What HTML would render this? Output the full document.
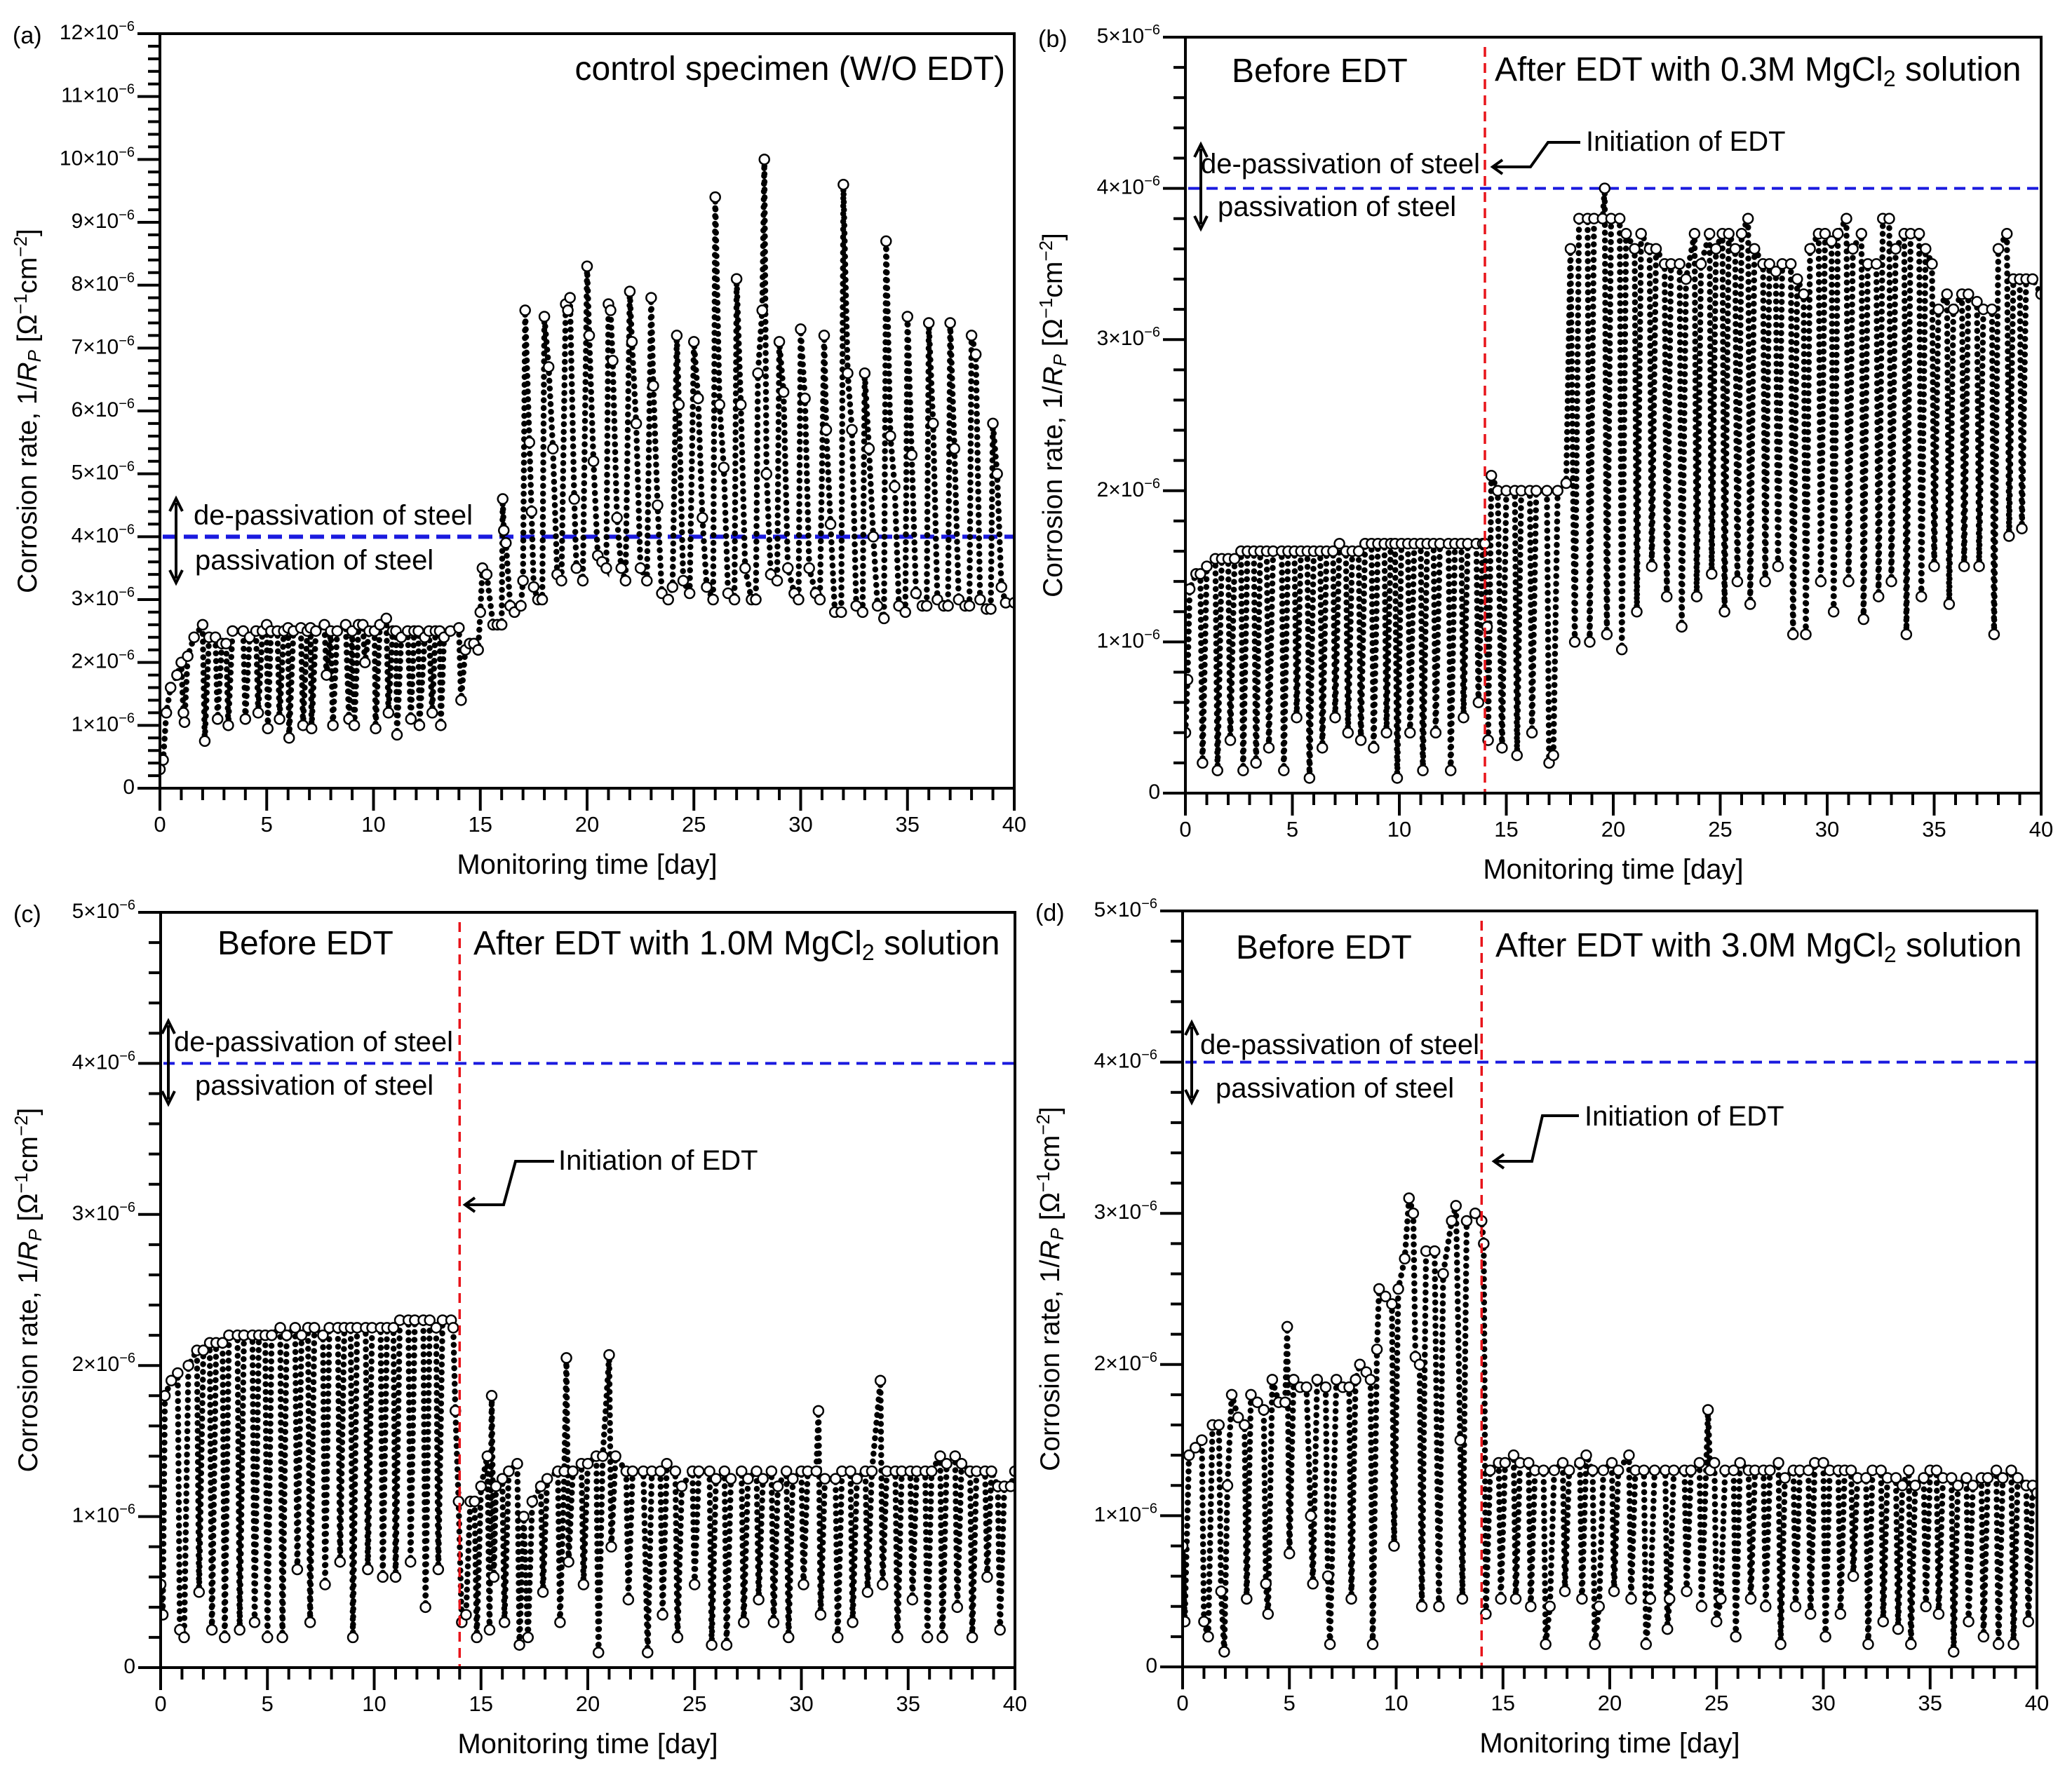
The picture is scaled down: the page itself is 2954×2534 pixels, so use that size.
<!DOCTYPE html>
<html><head><meta charset="utf-8"><style>
html,body{margin:0;padding:0;background:#fff}
svg{display:block}
text{font-family:"Liberation Sans",sans-serif;fill:#000}
</style></head><body>
<svg id="fig" width="2954" height="2534" viewBox="0 0 2954 2534" xmlns="http://www.w3.org/2000/svg"></svg>
<script>
// ---- data (units of 1e-6 ohm^-1 cm^-2) ----
const xTickLabels = [0,5,10,15,20,25,30,35,40];
const aYTicks = [0,1,2,3,4,5,6,7,8,9,10,11,12];
const bcdYTicks = [0,1,2,3,4,5];
const threshold = 4;
const edtDay = 14;
const aSeries = [[0,0.3],[0.15,0.45],[0.3,1.2],[0.5,1.6],[0.8,1.8],[1.0,2.0],[1.1,1.2],[1.15,1.05],[1.3,2.1],[1.6,2.4],[2.0,2.6],[2.1,0.75],[2.3,2.4],[2.6,2.4],[2.7,1.1],[2.9,2.3],[3.1,2.3],[3.2,1.0],[3.4,2.5],[3.9,2.5],[4.0,1.1],[4.2,2.4],[4.5,2.5],[4.6,1.2],[4.8,2.5],[5.0,2.6],[5.05,0.95],[5.2,2.5],[5.5,2.5],[5.6,1.1],[5.8,2.5],[6.0,2.55],[6.05,0.8],[6.25,2.5],[6.6,2.55],[6.7,1.0],[6.9,2.5],[7.05,2.55],[7.1,0.95],[7.3,2.5],[7.7,2.6],[7.8,1.8],[8.0,2.5],[8.1,1.0],[8.3,2.5],[8.7,2.6],[8.85,1.1],[9.0,2.5],[9.1,1.0],[9.3,2.6],[9.5,2.6],[9.6,2.0],[9.8,2.5],[10.05,2.5],[10.1,0.95],[10.3,2.6],[10.6,2.7],[10.7,1.2],[10.9,2.5],[11.05,2.5],[11.1,0.85],[11.3,2.4],[11.6,2.5],[11.75,1.1],[11.9,2.5],[12.1,2.5],[12.15,1.0],[12.4,2.4],[12.6,2.5],[12.75,1.2],[12.9,2.5],[13.1,2.5],[13.15,1.0],[13.3,2.4],[13.6,2.5],[14.0,2.55],[14.1,1.4],[14.3,2.2],[14.5,2.3],[14.7,2.3],[14.9,2.2],[15.0,2.8],[15.1,3.5],[15.3,3.4],[15.6,2.6],[15.8,2.6],[16.0,2.6],[16.05,4.6],[16.1,4.1],[16.2,3.9],[16.4,2.9],[16.6,2.8],[16.9,2.9],[17.0,3.3],[17.1,7.6],[17.3,5.5],[17.4,4.4],[17.5,3.2],[17.7,3.0],[17.9,3.0],[18.0,7.5],[18.2,6.7],[18.4,5.4],[18.6,3.4],[18.8,3.3],[19.0,7.7],[19.1,7.6],[19.2,7.8],[19.4,4.6],[19.5,3.5],[19.8,3.3],[20.0,8.3],[20.1,7.2],[20.3,5.2],[20.5,3.7],[20.7,3.6],[20.9,3.5],[21.0,7.7],[21.1,7.6],[21.2,6.8],[21.4,4.3],[21.6,3.5],[21.8,3.3],[22.0,7.9],[22.1,7.1],[22.3,5.8],[22.5,3.5],[22.8,3.3],[23.0,7.8],[23.1,6.4],[23.3,4.5],[23.5,3.1],[23.8,3.0],[24.0,3.2],[24.2,7.2],[24.3,6.1],[24.5,3.3],[24.8,3.1],[25.0,7.1],[25.2,6.2],[25.4,4.3],[25.6,3.2],[25.9,3.0],[26.0,9.4],[26.2,6.1],[26.4,5.1],[26.6,3.1],[26.9,3.0],[27.0,8.1],[27.2,6.1],[27.4,3.5],[27.7,3.0],[27.9,3.0],[28.0,6.6],[28.2,7.6],[28.3,10.0],[28.4,5.0],[28.6,3.4],[28.9,3.3],[29.0,7.1],[29.2,6.3],[29.4,3.5],[29.7,3.1],[29.9,3.0],[30.0,7.3],[30.2,6.2],[30.4,3.5],[30.7,3.1],[30.9,3.0],[31.1,7.2],[31.2,5.7],[31.4,4.2],[31.6,2.8],[31.9,2.8],[32.0,9.6],[32.2,6.6],[32.4,5.7],[32.6,2.9],[32.9,2.8],[33.0,6.6],[33.2,5.4],[33.4,4.0],[33.6,2.9],[33.9,2.7],[34.0,8.7],[34.2,5.6],[34.4,4.8],[34.6,2.9],[34.9,2.8],[35.0,7.5],[35.2,5.3],[35.4,3.1],[35.7,2.9],[35.9,2.9],[36.0,7.4],[36.2,5.8],[36.4,3.0],[36.7,2.9],[36.9,2.9],[37.0,7.4],[37.2,5.4],[37.4,3.0],[37.7,2.9],[37.9,2.9],[38.0,7.2],[38.2,6.9],[38.4,3.0],[38.7,2.85],[38.9,2.85],[39.0,5.8],[39.2,5.0],[39.4,3.2],[39.6,2.95],[40.0,2.95]];
const bSeries = [[0,0.4],[0.1,0.75],[0.2,1.35],[0.5,1.45],[0.7,1.45],[0.8,0.2],[1.0,1.5],[1.4,1.55],[1.5,0.15],[1.7,1.55],[2.0,1.55],[2.1,0.35],[2.3,1.55],[2.6,1.6],[2.7,0.15],[2.9,1.6],[3.2,1.6],[3.3,0.2],[3.5,1.6],[3.8,1.6],[3.9,0.3],[4.1,1.6],[4.5,1.6],[4.6,0.15],[4.8,1.6],[5.1,1.6],[5.2,0.5],[5.4,1.6],[5.7,1.6],[5.8,0.1],[6.0,1.6],[6.3,1.6],[6.4,0.3],[6.6,1.6],[6.9,1.6],[7.0,0.5],[7.2,1.65],[7.5,1.6],[7.6,0.4],[7.8,1.6],[8.1,1.6],[8.2,0.35],[8.4,1.65],[8.7,1.65],[8.8,0.3],[9.0,1.65],[9.3,1.65],[9.4,0.4],[9.6,1.65],[9.8,1.65],[9.9,0.1],[10.1,1.65],[10.4,1.65],[10.5,0.4],[10.7,1.65],[11.0,1.65],[11.1,0.15],[11.3,1.65],[11.6,1.65],[11.7,0.4],[11.9,1.65],[12.3,1.65],[12.4,0.15],[12.6,1.65],[12.9,1.65],[13.0,0.5],[13.2,1.65],[13.6,1.65],[13.7,0.6],[13.9,1.65],[14.0,1.65],[14.1,1.1],[14.15,0.35],[14.3,2.1],[14.6,2.0],[14.8,0.3],[15.0,2.0],[15.4,2.0],[15.5,0.25],[15.7,2.0],[16.1,2.0],[16.2,0.4],[16.4,2.0],[16.9,2.0],[17.0,0.2],[17.2,0.25],[17.4,2.0],[17.8,2.05],[18.0,3.6],[18.2,1.0],[18.4,3.8],[18.8,3.8],[18.9,1.0],[19.1,3.8],[19.5,3.8],[19.6,4.0],[19.7,1.05],[19.9,3.8],[20.3,3.8],[20.4,0.95],[20.6,3.7],[21.0,3.6],[21.1,1.2],[21.3,3.7],[21.7,3.6],[21.8,1.5],[22.0,3.6],[22.4,3.5],[22.5,1.3],[22.7,3.5],[23.1,3.5],[23.2,1.1],[23.4,3.4],[23.8,3.7],[23.9,1.3],[24.1,3.5],[24.5,3.7],[24.6,1.45],[24.8,3.6],[25.1,3.7],[25.2,1.2],[25.4,3.7],[25.7,3.6],[25.8,1.4],[26.0,3.7],[26.3,3.8],[26.4,1.25],[26.6,3.6],[27.0,3.5],[27.1,1.4],[27.3,3.5],[27.6,3.45],[27.7,1.5],[27.9,3.5],[28.3,3.5],[28.4,1.05],[28.6,3.4],[28.9,3.3],[29.0,1.05],[29.2,3.6],[29.6,3.7],[29.7,1.4],[29.9,3.7],[30.2,3.65],[30.3,1.2],[30.5,3.7],[30.9,3.8],[31.0,1.4],[31.2,3.6],[31.6,3.7],[31.7,1.15],[31.9,3.5],[32.3,3.5],[32.4,1.3],[32.6,3.8],[32.9,3.8],[33.0,1.4],[33.2,3.6],[33.6,3.7],[33.7,1.05],[33.9,3.7],[34.3,3.7],[34.4,1.3],[34.6,3.6],[34.9,3.5],[35.0,1.5],[35.2,3.2],[35.6,3.3],[35.7,1.25],[35.9,3.2],[36.3,3.3],[36.4,1.5],[36.6,3.3],[37.0,3.25],[37.1,1.5],[37.3,3.2],[37.7,3.2],[37.8,1.05],[38.0,3.6],[38.4,3.7],[38.5,1.7],[38.7,3.4],[39.0,3.4],[39.1,1.75],[39.3,3.4],[39.6,3.4],[40.0,3.3]];
const cSeries = [[0,0.55],[0.1,0.35],[0.2,1.8],[0.5,1.9],[0.8,1.95],[0.9,0.25],[1.1,0.2],[1.3,2.0],[1.7,2.1],[1.8,0.5],[2.0,2.1],[2.3,2.15],[2.4,0.25],[2.6,2.15],[2.9,2.15],[3.0,0.2],[3.2,2.2],[3.6,2.2],[3.7,0.25],[3.9,2.2],[4.3,2.2],[4.4,0.3],[4.6,2.2],[4.9,2.2],[5.0,0.2],[5.2,2.2],[5.6,2.25],[5.7,0.2],[5.9,2.2],[6.3,2.25],[6.4,0.65],[6.6,2.2],[6.9,2.25],[7.0,0.3],[7.2,2.25],[7.6,2.2],[7.7,0.55],[7.9,2.25],[8.3,2.25],[8.4,0.7],[8.6,2.25],[8.9,2.25],[9.0,0.2],[9.2,2.25],[9.6,2.25],[9.7,0.65],[9.9,2.25],[10.3,2.25],[10.4,0.6],[10.6,2.25],[10.9,2.25],[11.0,0.6],[11.2,2.3],[11.6,2.3],[11.7,0.7],[11.9,2.3],[12.3,2.3],[12.4,0.4],[12.6,2.3],[12.9,2.25],[13.0,0.65],[13.2,2.3],[13.6,2.3],[13.7,2.25],[13.8,1.7],[13.95,1.1],[14.1,0.3],[14.3,0.35],[14.5,1.1],[14.7,1.1],[14.8,0.2],[15.0,1.2],[15.3,1.4],[15.4,0.25],[15.5,1.8],[15.6,0.6],[15.7,1.2],[16.0,1.25],[16.1,0.3],[16.3,1.3],[16.7,1.35],[16.8,0.15],[17.0,1.0],[17.2,0.2],[17.4,1.1],[17.8,1.2],[17.9,0.5],[18.1,1.25],[18.6,1.3],[18.7,0.3],[18.9,1.3],[19.0,2.05],[19.1,0.7],[19.3,1.3],[19.7,1.35],[19.8,0.55],[20.0,1.35],[20.4,1.4],[20.5,0.1],[20.7,1.4],[21.0,2.07],[21.1,0.8],[21.3,1.4],[21.8,1.3],[21.9,0.45],[22.1,1.3],[22.6,1.3],[22.8,0.1],[23.0,1.3],[23.4,1.3],[23.5,0.35],[23.7,1.35],[24.1,1.3],[24.2,0.2],[24.4,1.2],[24.9,1.3],[25.0,0.55],[25.2,1.3],[25.7,1.3],[25.8,0.15],[26.0,1.25],[26.4,1.3],[26.5,0.15],[26.7,1.25],[27.2,1.3],[27.3,0.3],[27.5,1.25],[27.9,1.3],[28.0,0.45],[28.2,1.25],[28.6,1.3],[28.7,0.3],[28.9,1.2],[29.3,1.3],[29.4,0.2],[29.6,1.25],[30.0,1.3],[30.1,0.55],[30.3,1.3],[30.7,1.3],[30.8,1.7],[30.9,0.35],[31.1,1.25],[31.6,1.25],[31.7,0.2],[31.9,1.3],[32.3,1.3],[32.4,0.3],[32.6,1.25],[33.0,1.3],[33.1,0.5],[33.3,1.3],[33.7,1.9],[33.8,0.55],[34.0,1.3],[34.4,1.3],[34.5,0.2],[34.7,1.3],[35.1,1.3],[35.2,0.45],[35.4,1.3],[35.8,1.3],[35.9,0.2],[36.1,1.3],[36.5,1.4],[36.6,0.2],[36.8,1.35],[37.2,1.4],[37.3,0.4],[37.5,1.35],[37.9,1.3],[38.0,0.2],[38.2,1.3],[38.6,1.3],[38.7,0.6],[38.9,1.3],[39.2,1.2],[39.3,0.25],[39.5,1.2],[39.8,1.2],[40.0,1.3]];
const dSeries = [[0,0.8],[0.1,0.3],[0.3,1.4],[0.6,1.45],[0.9,1.5],[1.0,0.3],[1.2,0.2],[1.4,1.6],[1.7,1.6],[1.8,0.5],[1.95,0.1],[2.1,1.2],[2.3,1.8],[2.6,1.65],[2.9,1.6],[3.0,0.45],[3.2,1.8],[3.5,1.75],[3.8,1.7],[3.9,0.55],[4.0,0.35],[4.2,1.9],[4.5,1.75],[4.8,1.75],[4.9,2.25],[5.0,0.75],[5.2,1.9],[5.5,1.85],[5.8,1.85],[6.0,1.0],[6.1,0.55],[6.3,1.9],[6.7,1.85],[6.8,0.6],[6.9,0.15],[7.2,1.9],[7.5,1.85],[7.8,1.85],[7.9,0.45],[8.1,1.9],[8.3,2.0],[8.6,1.95],[8.8,1.9],[8.9,0.15],[9.1,2.1],[9.2,2.5],[9.5,2.45],[9.8,2.4],[9.9,0.8],[10.1,2.5],[10.4,2.7],[10.6,3.1],[10.8,3.0],[10.9,2.05],[11.1,2.0],[11.2,0.4],[11.4,2.75],[11.8,2.75],[12.0,0.4],[12.2,2.6],[12.6,2.95],[12.8,3.05],[13.0,1.5],[13.1,0.45],[13.3,2.95],[13.7,3.0],[14.0,2.95],[14.1,2.8],[14.2,0.35],[14.4,1.3],[14.8,1.35],[14.9,0.45],[15.1,1.35],[15.5,1.4],[15.6,0.45],[15.8,1.35],[16.2,1.35],[16.3,0.4],[16.5,1.3],[16.9,1.3],[17.0,0.15],[17.2,0.4],[17.4,1.3],[17.8,1.35],[17.9,0.5],[18.1,1.3],[18.6,1.35],[18.7,0.45],[18.9,1.4],[19.2,1.3],[19.3,0.15],[19.5,0.4],[19.7,1.3],[20.1,1.35],[20.2,0.5],[20.4,1.3],[20.9,1.4],[21.0,0.45],[21.2,1.3],[21.6,1.3],[21.7,0.15],[21.9,0.45],[22.1,1.3],[22.6,1.3],[22.7,0.25],[22.8,0.45],[23.0,1.3],[23.5,1.3],[23.6,0.5],[23.8,1.3],[24.2,1.35],[24.3,0.4],[24.6,1.7],[24.7,1.3],[24.9,1.35],[25.0,0.3],[25.2,0.45],[25.4,1.3],[25.8,1.3],[25.9,0.2],[26.1,1.35],[26.5,1.3],[26.6,0.45],[26.8,1.3],[27.2,1.3],[27.3,0.4],[27.5,1.3],[27.9,1.35],[28.0,0.15],[28.2,1.25],[28.6,1.3],[28.7,0.4],[28.9,1.3],[29.3,1.3],[29.4,0.35],[29.6,1.35],[30.0,1.35],[30.1,0.2],[30.3,1.3],[30.7,1.3],[30.8,0.35],[31.0,1.3],[31.3,1.3],[31.4,0.6],[31.6,1.25],[32.0,1.25],[32.1,0.15],[32.3,1.3],[32.7,1.3],[32.8,0.3],[33.0,1.25],[33.4,1.25],[33.5,0.25],[33.7,1.2],[34.0,1.3],[34.1,0.15],[34.3,1.2],[34.7,1.25],[34.8,0.4],[35.0,1.3],[35.3,1.3],[35.4,0.35],[35.6,1.25],[36.0,1.25],[36.1,0.1],[36.3,1.2],[36.7,1.25],[36.8,0.3],[37.0,1.2],[37.4,1.25],[37.5,0.2],[37.7,1.25],[38.1,1.3],[38.2,0.15],[38.4,1.25],[38.8,1.3],[38.9,0.15],[39.1,1.25],[39.5,1.2],[39.6,0.3],[39.8,1.2],[40.0,1.15]];

const NS = "http://www.w3.org/2000/svg";
const svg = document.getElementById('fig');
function mk(tag, attrs, parent){
  const e = document.createElementNS(NS, tag);
  for (const k in attrs) e.setAttribute(k, attrs[k]);
  (parent||svg).appendChild(e);
  return e;
}

function yLabel(g, x, y, v){
  const t = mk('text', {x:x, y:y, 'text-anchor':'end', 'font-size':30}, g);
  
  
  if (v === 0) { t.textContent = '0'; return; }
  const a = document.createElementNS(NS,'tspan'); a.textContent = v + '\u00D710'; t.appendChild(a);
  const s = document.createElementNS(NS,'tspan'); s.textContent = '\u22126'; s.setAttribute('font-size', 20); s.setAttribute('dy', -12); t.appendChild(s);
}

function panel(p){
  const g = mk('g', {});
  
  
  const X = d => p.L + (d/40)*(p.R-p.L);
  const Y = v => p.B - (v/p.ymax)*(p.B-p.T);
  const cid = 'clip-'+p.id;
  const cp = mk('clipPath', {id:cid}, g);
  mk('rect', {x:p.L, y:p.T, width:p.R-p.L, height:p.B-p.T}, cp);
  if (p.thresh){
    const bl = mk('line', {x1:X(0)+4, x2:p.R, y1:Y(threshold), y2:Y(threshold), stroke:'#1a1adf', 'stroke-width':p.blueW, 'stroke-dasharray':p.blueDash}, g);
    
    
  }
  const sg = mk('g', {'clip-path':'url(#'+cid+')'}, g);
  
  
  const pts = p.series.map(q => X(q[0]).toFixed(1)+','+Y(q[1]).toFixed(1)).join(' ');
  const pl = mk('polyline', {points:pts, fill:'none', stroke:'#000', 'stroke-width':8.5, 'stroke-linecap':'round', 'stroke-dasharray':'0.1 11'}, sg);
  
  
  p.series.forEach(q => {
    const c = mk('circle', {cx:X(q[0]), cy:Y(q[1]), r:7, fill:'#fff', stroke:'#000', 'stroke-width':2.5}, sg);
    
    
  });
  if (p.edt){
    const rl = mk('line', {x1:X(edtDay), x2:X(edtDay), y1:p.T+14, y2:p.B, stroke:'#e8141a', 'stroke-width':3.5, 'stroke-dasharray':'14 9'}, g);
    
    
  }
  const fr = mk('rect', {x:p.L, y:p.T, width:p.R-p.L, height:p.B-p.T, fill:'none', stroke:'#000', 'stroke-width':4}, g);
  
  
  for (let d=0; d<=40; d++){
    const major = d%5===0;
    mk('line', {x1:X(d), x2:X(d), y1:p.B, y2:p.B+(major?32:17), stroke:'#000', 'stroke-width':4}, g);
  }
  xTickLabels.forEach(d => {
    const t = mk('text', {x:X(d), y:p.B+62, 'text-anchor':'middle', 'font-size':31}, g);
    
    
    t.textContent = d;
  });
  const n = Math.round(p.ymax/0.2);
  for (let i=0;i<=n;i++){
    const v = i*0.2;
    const major = i%5===0;
    mk('line', {x1:p.L, x2:p.L-(major?32:17), y1:Y(v), y2:Y(v), stroke:'#000', 'stroke-width':4}, g);
  }
  p.yticks.forEach(v => yLabel(g, p.L-36, Y(v)+8, v));
  const xt = mk('text', {x:(p.L+p.R)/2, y:p.B+122, 'text-anchor':'middle', 'font-size':40}, g);
  
  
  xt.textContent = 'Monitoring time [day]';
  const cy = (p.T+p.B)/2;
  const yt = mk('text', {x:0, y:0, 'text-anchor':'middle', 'font-size':39, transform:'translate('+(p.L-176)+','+cy+') rotate(-90)'}, g);
  
  
  yt.innerHTML = 'Corrosion rate, 1/<tspan font-style="italic">R</tspan><tspan font-style="italic" font-size="26" dy="6">P</tspan><tspan dy="-6"> [\u03A9</tspan><tspan font-size="26" dy="-14">\u22121</tspan><tspan dy="14">cm</tspan><tspan font-size="26" dy="-14">\u22122</tspan><tspan dy="14">]</tspan>';
  const pl2 = mk('text', {x:p.L-210, y:p.T+14, 'font-size':34}, g);
  
  
  pl2.textContent = '('+p.id+')';
  return {g, X, Y};
}

function txt(g, x, y, s, fs, name, anchor){
  const t = mk('text', {x:x, y:y, 'font-size':fs, 'text-anchor':anchor||'start'}, g);
  
  
  t.innerHTML = s;
  return t;
}
function dblArrow(g, x, y1, y2){
  const a = mk('g', {}, g);
  
  
  mk('line', {x1:x, x2:x, y1:y1+6, y2:y2-6, stroke:'#000', 'stroke-width':4}, a);
  mk('path', {d:`M${x-9},${y1+18} L${x},${y1} L${x+9},${y1+18}`, fill:'none', stroke:'#000', 'stroke-width':4}, a);
  mk('path', {d:`M${x-9},${y2-18} L${x},${y2} L${x+9},${y2-18}`, fill:'none', stroke:'#000', 'stroke-width':4}, a);
}
function initArrow(g, pts){
  const a = mk('g', {}, g);
  
  
  mk('polyline', {points:pts.map(q=>q.join(',')).join(' '), fill:'none', stroke:'#000', 'stroke-width':4}, a);
  const e = pts[pts.length-1];
  mk('path', {d:`M${e[0]+14},${e[1]-10} L${e[0]},${e[1]} L${e[0]+14},${e[1]+10}`, fill:'none', stroke:'#000', 'stroke-width':4}, a);
}
const MG = n => `After EDT with ${n}M MgCl<tspan font-size="32" dy="8">2</tspan><tspan dy="-8"> solution</tspan>`;

let A = panel({id:'a', name:'panel-a-control', L:228, R:1446, T:48, B:1124, ymax:12, yticks:aYTicks, series:aSeries, thresh:true, edt:false, blueW:6, blueDash:'20 10'});
txt(A.g, 1433, 114, 'control specimen (W/O EDT)', 48, 'panel-title', 'end');
dblArrow(A.g, 251, 711, 831);
txt(A.g, 276, 748, 'de-passivation of steel', 40, 'de-passivation-label');
txt(A.g, 278, 812, 'passivation of steel', 40, 'passivation-label');

let B = panel({id:'b', name:'panel-b-0.3M', L:1690, R:2910, T:53, B:1131, ymax:5, yticks:bcdYTicks, series:bSeries, thresh:true, edt:true, blueW:4, blueDash:'16 10'});
txt(B.g, 1756, 117, 'Before EDT', 48, 'before-edt-label');
txt(B.g, 2131, 115, MG('0.3'), 48, 'after-edt-label');
txt(B.g, 2261, 215, 'Initiation of EDT', 40, 'initiation-label');
initArrow(B.g, [[2253,203],[2207,203],[2182,238],[2128,238]]);
dblArrow(B.g, 1712, 206, 326);
txt(B.g, 1712, 247, 'de-passivation of steel', 40, 'de-passivation-label');
txt(B.g, 1736, 308, 'passivation of steel', 40, 'passivation-label');

let C = panel({id:'c', name:'panel-c-1.0M', L:229, R:1447, T:1301, B:2378, ymax:5, yticks:bcdYTicks, series:cSeries, thresh:true, edt:true, blueW:4, blueDash:'16 10'});
txt(C.g, 310, 1361, 'Before EDT', 48, 'before-edt-label');
txt(C.g, 675, 1361, MG('1.0'), 48, 'after-edt-label');
txt(C.g, 796, 1668, 'Initiation of EDT', 40, 'initiation-label');
initArrow(C.g, [[790,1656],[735,1656],[718,1718],[663,1718]]);
dblArrow(C.g, 240, 1456, 1574);
txt(C.g, 248, 1499, 'de-passivation of steel', 40, 'de-passivation-label');
txt(C.g, 278, 1561, 'passivation of steel', 40, 'passivation-label');

let D = panel({id:'d', name:'panel-d-3.0M', L:1686, R:2904, T:1299, B:2377, ymax:5, yticks:bcdYTicks, series:dSeries, thresh:true, edt:true, blueW:4, blueDash:'16 10'});
txt(D.g, 1762, 1367, 'Before EDT', 48, 'before-edt-label');
txt(D.g, 2132, 1364, MG('3.0'), 48, 'after-edt-label');
txt(D.g, 2259, 1605, 'Initiation of EDT', 40, 'initiation-label');
initArrow(D.g, [[2251,1591],[2199,1591],[2184,1656],[2130,1656]]);
dblArrow(D.g, 1699, 1458, 1572);
txt(D.g, 1711, 1503, 'de-passivation of steel', 40, 'de-passivation-label');
txt(D.g, 1733, 1565, 'passivation of steel', 40, 'passivation-label');
</script>
</body></html>
